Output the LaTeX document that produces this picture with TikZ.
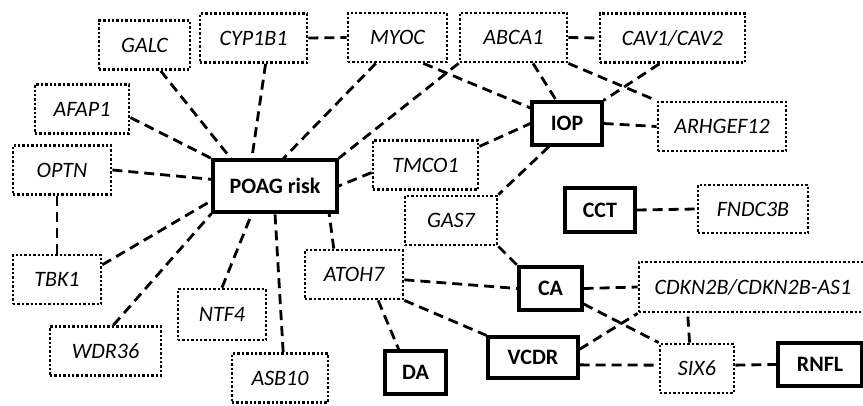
\documentclass[tikz,border=0pt]{standalone}
\usepackage{fontspec}
\setmainfont{Carlito}
\tikzset{
  gene/.style={draw, line width=2.8pt, dash pattern=on 2.4pt off 2pt,
    minimum height=49pt, inner sep=0pt, font=\fontsize{22}{26}\selectfont\itshape},
  trait/.style={draw, line width=3.2pt, minimum height=43pt, inner sep=0pt,
    font=\fontsize{22}{26}\selectfont\bfseries},
  link/.style={line width=2.8pt, dash pattern=on 10pt off 6pt}
}
\begin{document}
\begin{tikzpicture}[x=1pt, y=-1pt]
      \useasboundingbox (0,0) rectangle (863,405);
      \draw
        (144.5,45) node[gene, minimum width=91pt] (galc){GALC}
        (253.5,38) node[gene, minimum width=107pt] (cyp1b1){CYP1B1}
        (397.5,37.5) node[gene, minimum width=99pt] (myoc){MYOC}
        (513.5,37.5) node[gene, minimum width=107pt] (abca1){ABCA1}
        (672.5,38) node[gene, minimum width=145pt] (cav){CAV1/CAV2}
        (82,109) node[gene, minimum width=94pt] (afap1){AFAP1}
        (62,170) node[gene, minimum width=98pt] (optn){OPTN}
        (425.5,165) node[gene, minimum width=105pt] (tmco1){TMCO1}
        (722,126.5) node[gene, minimum width=128pt] (arhgef12){ARHGEF12}
        (451,220.5) node[gene, minimum width=92pt] (gas7){GAS7}
        (753,209) node[gene, minimum width=110pt, minimum height=48pt] (fndc3b){FNDC3B}
        (57,279.5) node[gene, minimum width=88pt] (tbk1){TBK1}
        (105.5,351) node[gene, minimum width=111pt] (wdr36){WDR36}
        (222,314.5) node[gene, minimum width=88pt, minimum height=51pt] (ntf4){NTF4}
        (280,378) node[gene, minimum width=96pt] (asb10){ASB10}
        (354,274.5) node[gene, minimum width=98pt] (atoh7){ATOH7}
        (753,287) node[gene, minimum width=228pt, minimum height=50pt] (cdkn2b){CDKN2B/CDKN2B-AS1}
        (697,368.5) node[gene, minimum width=74pt] (six6){SIX6};
      \draw
        (275,186) node[trait, minimum width=124pt, minimum height=52pt] (poag){POAG risk}
        (567,123.5) node[trait, minimum width=70pt] (iop){IOP}
        (600,210) node[trait, minimum width=70pt, minimum height=44pt] (cct){CCT}
        (550.5,288.5) node[trait, minimum width=63pt] (ca){CA}
        (415.5,372.5) node[trait, minimum width=61pt] (da){DA}
        (533,357.5) node[trait, minimum width=90pt, minimum height=41pt] (vcdr){VCDR}
        (820,364.5) node[trait, minimum width=84pt] (rnfl){RNFL};
      \begin{scope}[link]
        \draw (galc.-58) to (poag.148);
        \draw (cyp1b1.-65) to (poag.130);
        \draw (cyp1b1.east) to (myoc.west);
        \draw (myoc.-130) to (poag.73);
        \draw (myoc.-45) to (iop.157);
        \draw (abca1.south west) to (poag.north east);
        \draw (abca1.-53) to (iop.115);
        \draw (abca1.east) to (cav.west);
        \draw (abca1.south east) to (arhgef12.north west);
        \draw (cav.-117) to (iop.north east);
        \draw (iop.east) to (arhgef12.west);
        \draw (tmco1.19) to (iop.west);
        \draw (iop.-128) to (gas7.north east);
        \draw (afap1.-10) to (poag.north west);
        \draw (optn.east) to (poag.174);
        \draw (tbk1.north) to (tbk1.north |- optn.south);
        \draw (tmco1.188) to (poag.east);
        \draw (tbk1.18) to (poag.193);
        \draw (wdr36.73) to (poag.south west);
        \draw (ntf4.north) to (poag.-130);
        \draw (asb10.83) to (poag.south);
        \draw (atoh7.128) to (poag.-27);
        \draw (gas7.south east) to (ca.north west);
        \draw (cct.east) to (fndc3b.west);
        \draw (atoh7.-6) to (ca.west);
        \draw (atoh7.-47) to (da.126);
        \draw (atoh7.south east) to (vcdr.north west);
        \draw (ca.east) to (cdkn2b.west);
        \draw (ca.-25) to (six6.north west);
        \draw (vcdr.10) to (cdkn2b.south west);
        \draw (vcdr.-9) to (six6.175);
        \draw (six6.106) to (cdkn2b.-158);
        \draw (six6.5) to (rnfl.west);
      \end{scope}
    \end{tikzpicture}
\end{document}
